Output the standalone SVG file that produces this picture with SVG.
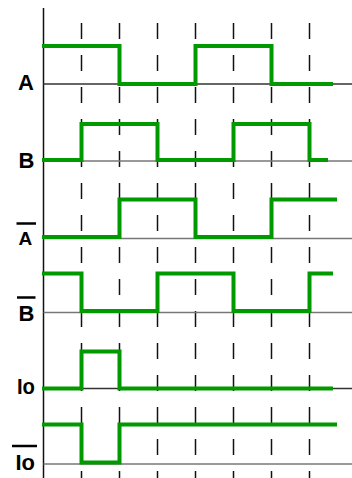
<svg xmlns="http://www.w3.org/2000/svg" width="352" height="478" viewBox="0 0 352 478">
  <style>
    .lbl { font-family: "Liberation Sans", Arial, sans-serif; font-weight: bold; font-size: 22px; fill: #000; }
    .base-dark { stroke: #333; stroke-width: 1.5; fill: none; }
    .base-gray { stroke: #777; stroke-width: 1.5; fill: none; }
    .wave { stroke: #009900; stroke-width: 4; fill: none; stroke-linejoin: miter; stroke-linecap: butt; }
    .grid { stroke: #111; stroke-width: 1.5; stroke-dasharray: 16 16; fill: none; }
    .bar { stroke: #000; stroke-width: 2.5; }
  </style>
  <rect width="352" height="478" fill="#fff"/>
  <g id="grid">
    <line x1="43.5" y1="8" x2="43.5" y2="478" stroke="#111" stroke-width="1.5"/>
    <line class="grid" x1="81.5" y1="23" x2="81.5" y2="478"/>
    <line class="grid" x1="119.5" y1="23" x2="119.5" y2="478"/>
    <line class="grid" x1="157.5" y1="23" x2="157.5" y2="478"/>
    <line class="grid" x1="195.5" y1="23" x2="195.5" y2="478"/>
    <line class="grid" x1="233.5" y1="23" x2="233.5" y2="478"/>
    <line class="grid" x1="271.5" y1="23" x2="271.5" y2="478"/>
    <line class="grid" x1="309.5" y1="23" x2="309.5" y2="478"/>
  </g>
  <g id="sig-A">
    <line class="base-dark" x1="43.5" y1="84" x2="352" y2="84"/>
    <text class="lbl" x="18" y="90">A</text>
    <polyline class="wave" points="42,46 119.5,46 119.5,84 195.5,84 195.5,46 271.5,46 271.5,84 333,84"/>
  </g>
  <g id="sig-B">
    <line class="base-gray" x1="43.5" y1="161" x2="352" y2="161"/>
    <text class="lbl" x="18.5" y="168">B</text>
    <polyline class="wave" points="42,160 81.5,160 81.5,124 157.5,124 157.5,160 233.5,160 233.5,124 309.5,124 309.5,160 328,160"/>
  </g>
  <g id="sig-Abar">
    <line class="base-gray" x1="43.5" y1="238.5" x2="352" y2="238.5"/>
    <line class="bar" x1="16.5" y1="223.5" x2="36" y2="223.5"/>
    <text class="lbl" x="18.5" y="245" style="font-size:19px">A</text>
    <polyline class="wave" points="42,237 119.5,237 119.5,199.5 195.5,199.5 195.5,237 271.5,237 271.5,199.5 337,199.5"/>
  </g>
  <g id="sig-Bbar">
    <line class="base-gray" x1="43.5" y1="312.5" x2="352" y2="312.5"/>
    <line class="bar" x1="17" y1="297.5" x2="35.5" y2="297.5"/>
    <text class="lbl" x="18.5" y="320.5">B</text>
    <polyline class="wave" points="42,273.5 81.5,273.5 81.5,311 157.5,311 157.5,273.5 233.5,273.5 233.5,311 309.5,311 309.5,273.5 333,273.5"/>
  </g>
  <g id="sig-Io">
    <line class="base-dark" x1="43.5" y1="388.5" x2="352" y2="388.5"/>
    <text class="lbl" x="17" y="394" textLength="18" lengthAdjust="spacingAndGlyphs">Io</text>
    <polyline class="wave" points="42,388.5 81.5,388.5 81.5,351.5 119.5,351.5 119.5,388.5 333,388.5"/>
  </g>
  <g id="sig-Iobar">
    <line class="base-gray" x1="43.5" y1="464" x2="352" y2="464"/>
    <line class="bar" x1="12" y1="446" x2="37" y2="446"/>
    <text class="lbl" x="15.5" y="470" textLength="19.5" lengthAdjust="spacingAndGlyphs">Io</text>
    <polyline class="wave" points="42,424.5 81.5,424.5 81.5,462.5 119.5,462.5 119.5,424.5 337,424.5"/>
  </g>
</svg>
